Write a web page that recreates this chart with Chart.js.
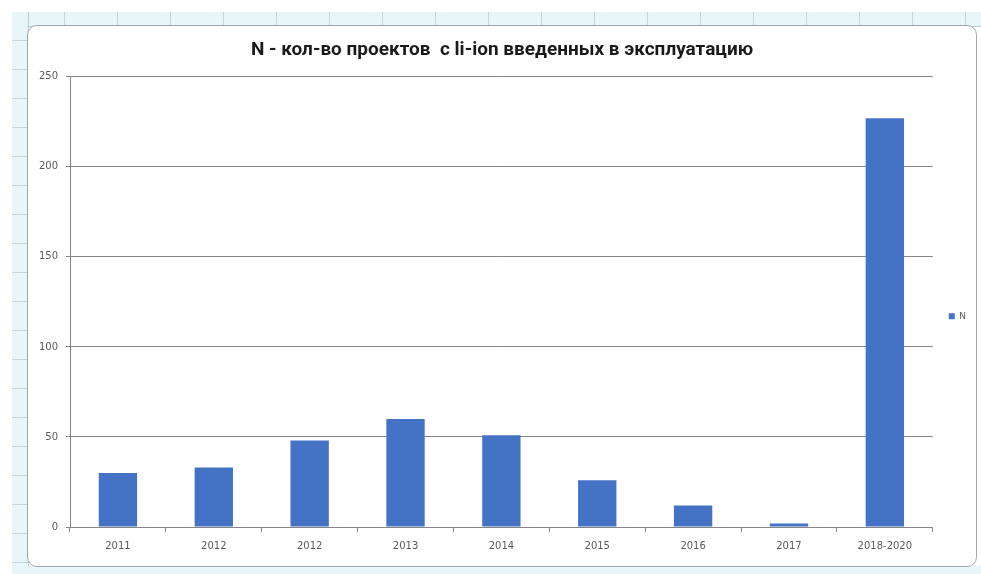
<!DOCTYPE html>
<html><head><meta charset="utf-8">
<script src="https://cdn.jsdelivr.net/npm/chart.js@4.4.1/dist/chart.umd.min.js"></script>
<style>
html,body{margin:0;padding:0;width:981px;height:574px;overflow:hidden;background:#fff;}
#sheetTop{position:absolute;left:12px;top:12px;width:969px;height:14px;background:#e6f6f9;
 background-image:repeating-linear-gradient(90deg,transparent 0 52px,#c6d6da 52px 53px);border-bottom:1px solid #b9c9cd;}
#sheetLeft{position:absolute;left:12px;top:12px;width:16px;height:562px;background:#e6f6f9;
 background-image:repeating-linear-gradient(180deg,transparent 0 28px,#c6d6da 28px 29px);border-right:1px solid #b9c9cd;}
#sheetBottom{position:absolute;left:12px;top:566px;width:969px;height:8px;background:#e6f6f9;}
#box{position:absolute;left:27px;top:25px;width:948px;height:540px;background:#fff;border:1px solid #9fa9ad;border-radius:10px;}
#c{position:absolute;left:0;top:0;}
</style></head>
<body>
<div id="sheetTop"></div><div id="sheetLeft"></div><div id="sheetBottom"></div>
<div id="box"><canvas id="c" width="948" height="540"></canvas></div>
<script>
const categories = ['2011','2012','2012','2013','2014','2015','2016','2017','2018-2020'];
const seriesN = [30, 33, 48, 60, 51, 26, 12, 2, 227];
const yTicks = [0, 50, 100, 150, 200, 250];
const seriesName = 'N';
const titleText = 'N - кол-во проектов  с li-ion введенных в эксплуатацию';

const gridColor = '#868686';
const labelColor = '#5a5a5a';
const tickFont = {family:'"DejaVu Sans"', size:10};

new Chart(document.getElementById('c'), {
  type:'bar',
  data:{labels:categories, datasets:[{label:seriesName, data:seriesN, backgroundColor:'#4472C4', borderWidth:0,
     barPercentage:0.4, categoryPercentage:1.0}]},
  options:{
    responsive:false, animation:false, devicePixelRatio:1,
    layout:{padding:{left:0,right:0,top:0,bottom:0}},
    plugins:{
      title:{display:true, text:titleText, color:'#1a1a1a',
        font:{family:'Roboto', size:19, weight:'bold'}, padding:{top:13,bottom:15}},
      legend:{display:true, position:'right',
        title:{display:true, text:' ', font:{size:2}, padding:{top:0,bottom:38}},
        labels:{boxWidth:6, boxHeight:6, color:labelColor, font:{family:'"DejaVu Sans"', size:9}, padding:16}},
      tooltip:{enabled:false}
    },
    scales:{
      x:{
        grid:{offset:true, drawOnChartArea:false, drawTicks:true, tickLength:5, color:gridColor},
        border:{display:true, color:gridColor, width:1},
        ticks:{color:labelColor, font:tickFont, padding:8, maxRotation:0, autoSkip:false},
        afterFit:(s)=>{s.height = 39;}
      },
      y:{
        min:0, max:250,
        afterBuildTicks:(s)=>{s.ticks = yTicks.map(v=>({value:v}));},
        grid:{color:gridColor, lineWidth:1, drawTicks:true, tickLength:4},
        border:{display:true, color:gridColor, width:1},
        ticks:{color:labelColor, font:tickFont, padding:8},
        afterFit:(s)=>{s.width = 42;}
      }
    }
  }
});
</script>
</body></html>
